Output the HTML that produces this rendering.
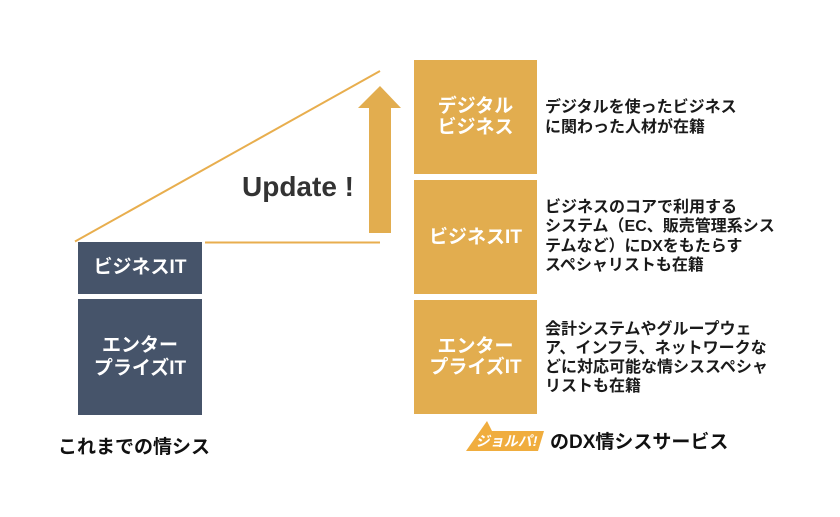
<!DOCTYPE html>
<html>
<head>
<meta charset="utf-8">
<style>
  html,body{margin:0;padding:0;background:#fff;}
  body{width:840px;height:517px;position:relative;overflow:hidden;
       font-family:"Liberation Sans","Noto Sans CJK JP",sans-serif;}
  .box{position:absolute;}
  .slate{background:#46546a;}
  .gold{background:#e2ad4f;}
  .lbl{position:absolute;color:#fff;font-weight:bold;font-size:19px;text-align:center;white-space:nowrap;}
  .txt{position:absolute;color:#1a1a1a;font-weight:bold;font-size:16px;white-space:nowrap;left:545px;}
  svg{position:absolute;left:0;top:0;}
</style>
</head>
<body>
<svg width="840" height="517" viewBox="0 0 840 517">
  <line x1="75" y1="241.5" x2="380" y2="71" stroke="#e8ae4e" stroke-width="2"/>
  <line x1="205" y1="242.5" x2="380" y2="242.5" stroke="#e8ae4e" stroke-width="2"/>
  <polygon points="369,233 369,108 358,108 380,86 401,108 391,108 391,233" fill="#e2ad4f"/>
  <polygon points="487,421 492,431 544,431 538,451 466,451" fill="#f0ad3e"/>
</svg>

<!-- left boxes -->
<div class="box slate" style="left:78px;top:242px;width:124px;height:52px;"></div>
<div class="box slate" style="left:78px;top:299px;width:124px;height:116px;"></div>
<div class="lbl" style="left:78px;width:124px;top:257px;line-height:22px;">ビジネスIT</div>
<div class="lbl" style="left:78px;width:124px;top:334px;line-height:23px;">エンター<br>プライズIT</div>

<div style="position:absolute;left:58px;top:436px;font-size:19px;font-weight:bold;color:#111;line-height:24px;white-space:nowrap;">これまでの情シス</div>

<!-- Update -->
<div style="position:absolute;left:242px;top:170px;font-size:28px;font-weight:bold;color:#333;line-height:34px;white-space:nowrap;">Update !</div>

<!-- right boxes -->
<div class="box gold" style="left:414px;top:60px;width:123px;height:114px;"></div>
<div class="box gold" style="left:414px;top:180px;width:123px;height:114px;"></div>
<div class="box gold" style="left:414px;top:300px;width:123px;height:114px;"></div>
<div class="lbl" style="left:414px;width:123px;top:96px;line-height:21px;">デジタル<br>ビジネス</div>
<div class="lbl" style="left:414px;width:123px;top:227px;line-height:22px;">ビジネスIT</div>
<div class="lbl" style="left:414px;width:123px;top:336px;line-height:21px;">エンター<br>プライズIT</div>

<div class="txt" style="top:98px;line-height:19.5px;">デジタルを使ったビジネス<br>に関わった人材が在籍</div>
<div class="txt" style="top:198px;line-height:19.3px;">ビジネスのコアで利用する<br>システム（EC、販売管理系シス<br>テムなど）にDXをもたらす<br>スペシャリストも在籍</div>
<div class="txt" style="top:320px;line-height:19px;">会計システムやグループウェ<br>ア、インフラ、ネットワークな<br>どに対応可能な情シススペシャ<br>リストも在籍</div>

<!-- logo -->
<div style="position:absolute;left:477px;top:431px;font-size:14px;font-weight:bold;color:#fff;line-height:20px;white-space:nowrap;transform:skewX(-12deg);">ジョルパ!</div>
<div style="position:absolute;left:550px;top:431px;font-size:19px;font-weight:bold;color:#111;line-height:24px;white-space:nowrap;">のDX情シスサービス</div>
</body>
</html>
